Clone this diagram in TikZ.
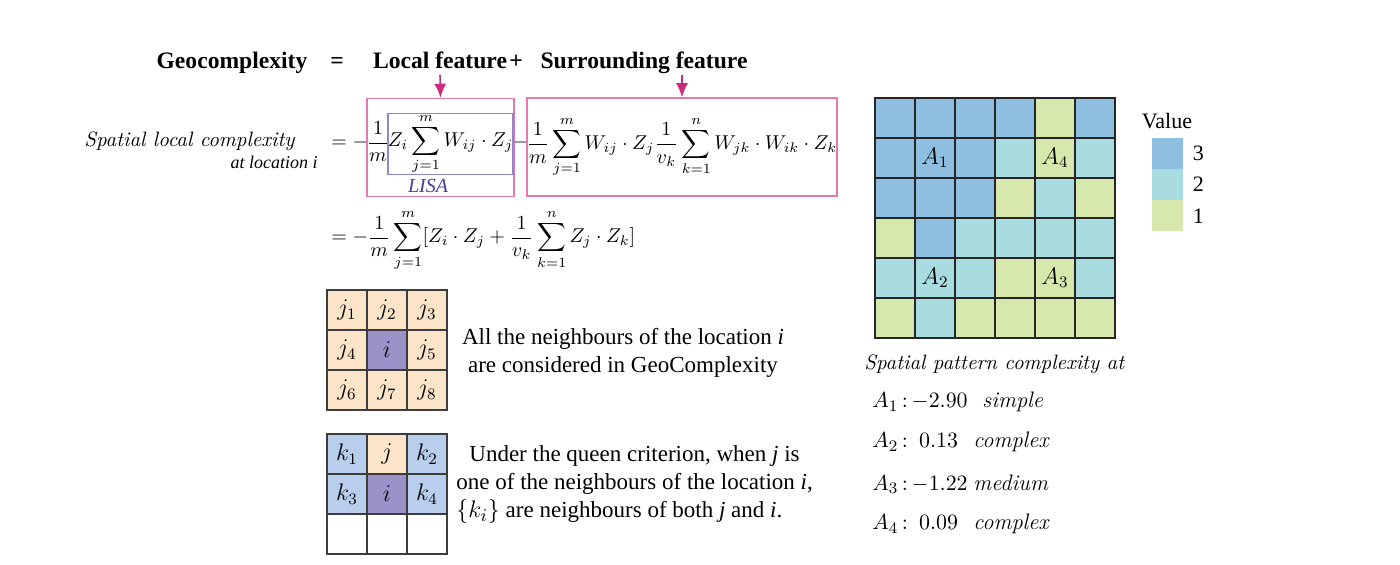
\documentclass[tikz,border=0pt]{standalone}
\usepackage{amsmath}
\usepackage{fontspec}
\newfontfamily\timesf{Liberation Serif}
\usepackage{tikz}
\usetikzlibrary{arrows.meta,positioning}

\definecolor{boxpink}{RGB}{228,122,172}
\definecolor{arrowpink}{RGB}{208,40,122}
\definecolor{lisablue}{RGB}{140,136,204}
\definecolor{lisatext}{RGB}{72,62,152}
\definecolor{peach}{RGB}{252,228,200}
\definecolor{ipurple}{RGB}{156,146,202}
\definecolor{kblue}{RGB}{184,206,236}
\definecolor{val3}{RGB}{142,190,224}
\definecolor{val2}{RGB}{168,220,224}
\definecolor{val1}{RGB}{214,232,172}
\definecolor{gridline}{RGB}{60,60,60}

\tikzset{
  headtext/.style={font=\timesf\bfseries\fontsize{11.8}{14}\selectfont, inner sep=0pt},
  note/.style={font=\timesf\fontsize{11.5}{14}\selectfont, align=left, inner sep=0pt},
  legtext/.style={font=\timesf\fontsize{11}{13}\selectfont, inner sep=0pt},
  eqn/.style={font=\fontsize{10.4}{12.5}\selectfont, inner sep=0pt},
  valtext/.style={font=\fontsize{11.2}{13}\selectfont, inner sep=0pt, anchor=base west},
  pinkbox/.style={draw=boxpink, line width=0.75pt, inner sep=0pt},
  cell/.style={draw=gridline, line width=0.8pt, minimum size=20pt, inner sep=0pt, font=\fontsize{12}{14}\selectfont},
  mapcell/.style={draw=black!85, line width=0.9pt, minimum size=20pt, inner sep=0pt},
  legbox/.style={minimum width=15.5pt, minimum height=15.5pt, inner sep=0pt},
  pointer/.style={draw=arrowpink, line width=0.8pt, -{Latex[length=7pt,width=6pt]}},
}

\begin{document}
\begin{tikzpicture}[x=0.5pt,y=-0.5pt]
    \useasboundingbox (0,0) rectangle (1400,565);

    % header line
    \node[headtext, anchor=base] (geo) at (232,69) {Geocomplexity};
    \node[headtext, anchor=base] (headeq) at (337,69) {=};
    \node[headtext, anchor=base] (local) at (440,69) {Local feature};
    \node[headtext, anchor=base] (plus) at (516,69) {+};
    \node[headtext, anchor=base] (surround) at (644,69) {Surrounding feature};

    % first line of the formula
    \node[eqn, anchor=base west] (slc) at (84,147) {\textit{Spatial local complexity}};
    \node[anchor=base east, inner sep=0pt, font=\timesf\itshape\fontsize{9}{11}\selectfont] (atloc) at (318,169) {at location i};
    \node[eqn, anchor=base west] (eqa) at (331,148) {$=-$};
    \node[pinkbox, minimum width=73.5pt, minimum height=49pt] (box1) at (440.5,147.5) {};
    \node[eqn, anchor=base] (fraca) at (378,148) {$\dfrac{1}{m}$};
    \node[eqn, draw=lisablue, line width=0.75pt, minimum width=60.5pt, minimum height=29.5pt] (lisa) at (450.5,144)
        {$\displaystyle Z_i\sum_{j=1}^{m}W_{ij}\cdot Z_j$};
    \node[inner sep=0pt, text=lisatext, font=\timesf\itshape\fontsize{10}{12}\selectfont] (lisalabel) at (428,186) {LISA};
    \node[eqn, anchor=base] (minus) at (521,148) {$-$};
    \node[pinkbox, eqn, minimum width=153pt, minimum height=49pt] (box2) at (682,147)
        {$\displaystyle \frac{1}{m}\sum_{j=1}^{m}W_{ij}\cdot Z_j\frac{1}{v_k}\sum_{k=1}^{n}W_{jk}\cdot W_{ik}\cdot Z_k$};

    \coordinate (arrowstart) at ([yshift=-3pt]local.base);
    \draw[pointer] (arrowstart) -- (box1.north);
    \draw[pointer] (arrowstart -| box2.north) -- (box2.north);

    % second line of the formula
    \node[eqn, anchor=base west] (eqb) at (331,243)
        {$\displaystyle =-\frac{1}{m}\sum_{j=1}^{m}[Z_i\cdot Z_j+\frac{1}{v_k}\sum_{k=1}^{n}Z_j\cdot Z_k]$};

    % all neighbours of i
    \node[cell, fill=peach] (j1) at (347,310) {$j_1$};
    \node[cell, fill=peach] (j2) at (387,310) {$j_2$};
    \node[cell, fill=peach] (j3) at (427,310) {$j_3$};
    \node[cell, fill=peach] (j4) at (347,350) {$j_4$};
    \node[cell, fill=ipurple] (ia) at (387,350) {$i$};
    \node[cell, fill=peach] (j5) at (427,350) {$j_5$};
    \node[cell, fill=peach] (j6) at (347,390) {$j_6$};
    \node[cell, fill=peach] (j7) at (387,390) {$j_7$};
    \node[cell, fill=peach] (j8) at (427,390) {$j_8$};
    \node[note, align=center] (noteall) at (623,353) {All the neighbours of the location \textit{i}\\are considered in GeoComplexity};

    % queen criterion
    \node[cell, fill=kblue] (k1) at (347,454) {$k_1$};
    \node[cell, fill=peach] (jb) at (387,454) {$j$};
    \node[cell, fill=kblue] (k2) at (427,454) {$k_2$};
    \node[cell, fill=kblue] (k3) at (347,494) {$k_3$};
    \node[cell, fill=ipurple] (ib) at (387,494) {$i$};
    \node[cell, fill=kblue] (k4) at (427,494) {$k_4$};
    \node[cell, fill=white] (e1) at (347,534) {};
    \node[cell, fill=white] (e2) at (387,534) {};
    \node[cell, fill=white] (e3) at (427,534) {};
    \node[note, anchor=west] (notequeen) at (456,485) {\hspace{6.5pt}Under the queen criterion, when \textit{j} is\\one of the neighbours of the location \textit{i},\\{\fontsize{12.5}{14}\selectfont$\{k_i\}$} are neighbours of both \textit{j} and \textit{i}.};

    % value map
    \foreach \v [count=\c] in {3,3,3,3,1,3} \node[mapcell, fill=val\v] (map-1-\c) at (855+40*\c,118) {};
    \foreach \v [count=\c] in {3,3,3,2,1,2} \node[mapcell, fill=val\v] (map-2-\c) at (855+40*\c,158) {};
    \foreach \v [count=\c] in {3,3,3,1,2,1} \node[mapcell, fill=val\v] (map-3-\c) at (855+40*\c,198) {};
    \foreach \v [count=\c] in {1,3,2,2,2,2} \node[mapcell, fill=val\v] (map-4-\c) at (855+40*\c,238) {};
    \foreach \v [count=\c] in {2,2,2,1,1,2} \node[mapcell, fill=val\v] (map-5-\c) at (855+40*\c,278) {};
    \foreach \v [count=\c] in {1,2,1,1,1,1} \node[mapcell, fill=val\v] (map-6-\c) at (855+40*\c,318) {};
    \node[eqn, font=\fontsize{11.5}{13}\selectfont] (a1) at (map-2-2) {$A_1$};
    \node[eqn, font=\fontsize{11.5}{13}\selectfont] (a4) at (map-2-5) {$A_4$};
    \node[eqn, font=\fontsize{11.5}{13}\selectfont] (a2) at (map-5-2) {$A_2$};
    \node[eqn, font=\fontsize{11.5}{13}\selectfont] (a3) at (map-5-5) {$A_3$};

    % legend
    \node[legtext] (valtitle) at (1167,121) {Value};
    \node[legbox, fill=val3] (leg3) at (1167.5,153.5) {};
    \node[legbox, fill=val2] (leg2) at (1167.5,184.5) {};
    \node[legbox, fill=val1] (leg1) at (1167.5,216) {};
    \node[legtext, right=4.5pt of leg3] (leg3label) {3};
    \node[legtext, right=4.5pt of leg2] (leg2label) {2};
    \node[legtext, right=4.5pt of leg1] (leg1label) {1};

    % complexity values
    \node[eqn, anchor=base west] (pattitle) at (864,370) {\textit{Spatial pattern complexity at}};
    \node[valtext] (a1val) at (872,408) {$A_1\,{:}\,{-}2.90$};
    \node[valtext] (a1word) at (982,408) {\textit{simple}};
    \node[valtext] (a2val) at (872,448) {$A_2\,{:}\hspace{5.5pt}0.13$};
    \node[valtext] (a2word) at (973,448) {\textit{complex}};
    \node[valtext] (a3val) at (872,490) {$A_3\,{:}\,{-}1.22$};
    \node[valtext] (a3word) at (973,490) {\textit{medium}};
    \node[valtext] (a4val) at (872,530) {$A_4\,{:}\hspace{5.5pt}0.09$};
    \node[valtext] (a4word) at (973,530) {\textit{complex}};
\end{tikzpicture}
\end{document}
